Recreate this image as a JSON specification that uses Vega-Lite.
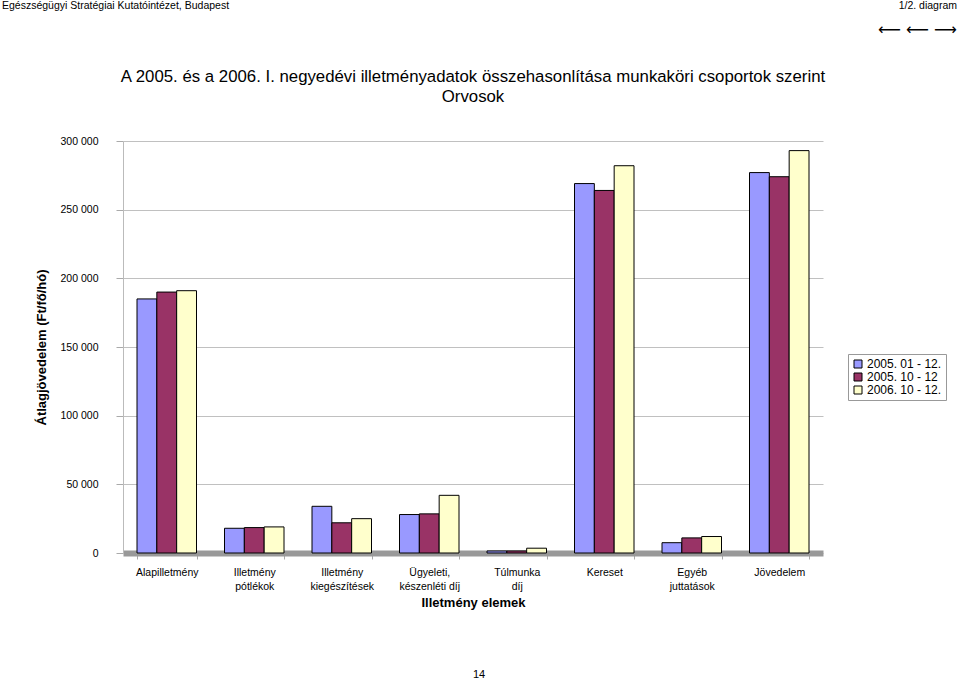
{
  "$schema": "https://vega.github.io/schema/vega-lite/v6.json",
  "background": "white",
  "padding": {"left": 2, "top": 0, "right": 0, "bottom": 0},
  "align": "none",
  "spacing": 30,
  "config": {"font": "Liberation Sans", "view": {"stroke": null}},
  "vconcat": [
    {
      "spacing": 0,
      "hconcat": [
        {
          "width": 450, "height": 1,
          "data": {"values": []},
          "mark": "point",
          "title": {"text": "Egészségügyi Stratégiai Kutatóintézet, Budapest", "subtitle": " ", "anchor": "start", "dx": -121, "fontSize": 10.5, "fontWeight": "normal", "color": "#000", "subtitleFontSize": 16, "subtitlePadding": 11, "offset": 0}
        },
        {
          "width": 384, "height": 1,
          "data": {"values": []},
          "mark": "point",
          "title": {"text": "1/2. diagram", "subtitle": "⟵ ⟵ ⟶", "anchor": "end", "fontSize": 10.5, "fontWeight": "normal", "color": "#000", "subtitleFontSize": 16, "subtitleColor": "#000", "subtitleFont": "DejaVu Sans", "subtitlePadding": 11, "offset": 0}
        }
      ]
    },
    {
      "width": 700,
      "height": 412,
      "title": {"text": "A 2005. és a 2006. I. negyedévi illetményadatok összehasonlítása munkaköri csoportok szerint", "subtitle": "Orvosok", "anchor": "middle", "fontSize": 16.8, "fontWeight": "normal", "color": "#000", "subtitleFontSize": 16.8, "subtitleColor": "#000", "subtitlePadding": 3, "offset": 30},
      "data": {"values": [
        {"elem": "Alapilletmény", "idoszak": "2005. 01 - 12.", "ertek": 185000},
        {"elem": "Alapilletmény", "idoszak": "2005. 10 - 12", "ertek": 190000},
        {"elem": "Alapilletmény", "idoszak": "2006. 10 - 12.", "ertek": 191000},
        {"elem": "Illetmény pótlékok", "idoszak": "2005. 01 - 12.", "ertek": 18000},
        {"elem": "Illetmény pótlékok", "idoszak": "2005. 10 - 12", "ertek": 18500},
        {"elem": "Illetmény pótlékok", "idoszak": "2006. 10 - 12.", "ertek": 19000},
        {"elem": "Illetmény kiegészítések", "idoszak": "2005. 01 - 12.", "ertek": 34000},
        {"elem": "Illetmény kiegészítések", "idoszak": "2005. 10 - 12", "ertek": 22000},
        {"elem": "Illetmény kiegészítések", "idoszak": "2006. 10 - 12.", "ertek": 25000},
        {"elem": "Ügyeleti, készenléti díj", "idoszak": "2005. 01 - 12.", "ertek": 28000},
        {"elem": "Ügyeleti, készenléti díj", "idoszak": "2005. 10 - 12", "ertek": 28500},
        {"elem": "Ügyeleti, készenléti díj", "idoszak": "2006. 10 - 12.", "ertek": 42000},
        {"elem": "Túlmunka díj", "idoszak": "2005. 01 - 12.", "ertek": 1500},
        {"elem": "Túlmunka díj", "idoszak": "2005. 10 - 12", "ertek": 1500},
        {"elem": "Túlmunka díj", "idoszak": "2006. 10 - 12.", "ertek": 3500},
        {"elem": "Kereset", "idoszak": "2005. 01 - 12.", "ertek": 269000},
        {"elem": "Kereset", "idoszak": "2005. 10 - 12", "ertek": 264000},
        {"elem": "Kereset", "idoszak": "2006. 10 - 12.", "ertek": 282000},
        {"elem": "Egyéb juttatások", "idoszak": "2005. 01 - 12.", "ertek": 7500},
        {"elem": "Egyéb juttatások", "idoszak": "2005. 10 - 12", "ertek": 11000},
        {"elem": "Egyéb juttatások", "idoszak": "2006. 10 - 12.", "ertek": 12000},
        {"elem": "Jövedelem", "idoszak": "2005. 01 - 12.", "ertek": 277000},
        {"elem": "Jövedelem", "idoszak": "2005. 10 - 12", "ertek": 274000},
        {"elem": "Jövedelem", "idoszak": "2006. 10 - 12.", "ertek": 293000}
      ]},
      "mark": {"type": "bar", "stroke": "#000", "strokeWidth": 1},
      "encoding": {
        "x": {
          "field": "elem", "type": "nominal", "sort": null,
          "scale": {"paddingInner": 0.32, "paddingOuter": 0.16},
          "axis": {
            "title": "Illetmény elemek", "titleFontSize": 13, "titleFontWeight": "bold", "titleColor": "#000", "titlePadding": 5,
            "labelAngle": 0, "labelFontSize": 10.5, "labelColor": "#000", "labelPadding": 8, "labelLineHeight": 14,
            "labelExpr": "datum.label == 'Ügyeleti, készenléti díj' ? ['Ügyeleti,', 'készenléti díj'] : split(datum.label, ' ')",
            "tickBand": "extent", "tickSize": 6, "tickColor": "#aaa",
            "domainColor": "#999", "domainWidth": 6
          }
        },
        "xOffset": {"field": "idoszak", "type": "nominal", "sort": null},
        "y": {
          "field": "ertek", "type": "quantitative",
          "scale": {"domain": [0, 300000]},
          "axis": {
            "title": "Átlagjövedelem (Ft/fő/hó)", "titleFontSize": 13, "titleFontWeight": "bold", "titleColor": "#000", "titlePadding": 12,
            "values": [0, 50000, 100000, 150000, 200000, 250000, 300000],
            "labelExpr": "replace(format(datum.value, ','), ',', ' ')",
            "labelFontSize": 10.5, "labelColor": "#000", "labelPadding": 18,
            "tickSize": 7, "tickColor": "#aaa", "domainColor": "#bbb",
            "gridColor": "#c0c0c0"
          }
        },
        "color": {
          "field": "idoszak", "type": "nominal", "sort": null,
          "scale": {"domain": ["2005. 01 - 12.", "2005. 10 - 12", "2006. 10 - 12."], "range": ["#9999FF", "#993366", "#FFFFCC"]},
          "legend": {
            "title": null, "orient": "none", "legendX": 725, "legendY": 316,
            "symbolType": "square", "symbolSize": 64, "symbolStrokeColor": "#000", "symbolStrokeWidth": 1,
            "labelFontSize": 12, "labelColor": "#000", "labelOffset": 3,
            "rowPadding": 1, "padding": 4, "strokeColor": "#999", "fillColor": "white"
          }
        }
      }
    },
    {
      "width": 712, "height": 29,
      "data": {"values": []},
      "mark": "point",
      "title": {"text": "14", "orient": "bottom", "anchor": "middle", "fontSize": 11, "fontWeight": "normal", "color": "#000", "offset": 0}
    }
  ]
}
